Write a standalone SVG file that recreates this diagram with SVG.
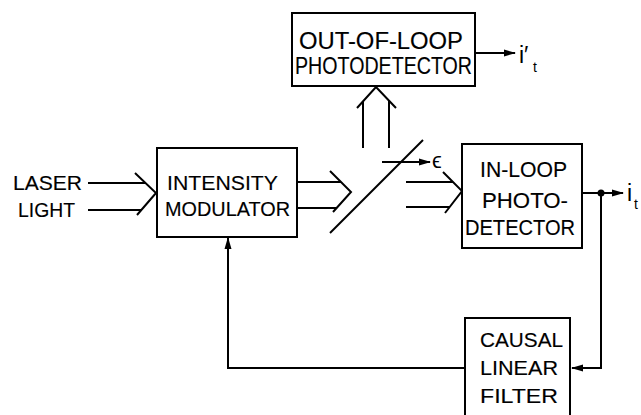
<svg xmlns="http://www.w3.org/2000/svg" width="641" height="415" viewBox="0 0 641 415">
<defs>
<marker id="ah" markerWidth="12" markerHeight="8" refX="11" refY="4" orient="auto" markerUnits="userSpaceOnUse">
<path d="M0,0.5 L12,4 L0,7.5 Z" fill="#000"/>
</marker>
<style>
.box{fill:#fff;stroke:#000;stroke-width:2}
.ln{fill:none;stroke:#000;stroke-width:2}
.t{font-family:"Liberation Sans","DejaVu Sans",sans-serif;font-size:21px;fill:#000;stroke:#000;stroke-width:0.15}
.s{font-family:"Liberation Sans","DejaVu Sans",sans-serif;fill:#000}
</style>
</defs>
<rect width="641" height="415" fill="#fff"/>

<g id="connectors">
  <!-- laser light input beam -->
  <line class="ln" x1="88" y1="183" x2="145" y2="183"/>
  <line class="ln" x1="88" y1="210" x2="141" y2="210"/>
  <polyline class="ln" points="135,173 156,193 137,215"/>
  <!-- modulator output beam -->
  <line class="ln" x1="297" y1="182" x2="341" y2="182"/>
  <line class="ln" x1="297" y1="208" x2="337" y2="208"/>
  <polyline class="ln" points="330,171 351,192 333,212"/>
  <!-- beam splitter -->
  <line class="ln" x1="330" y1="233" x2="423" y2="140"/>
  <!-- epsilon input -->
  <line class="ln" x1="382" y1="162" x2="430" y2="162" marker-end="url(#ah)"/>
  <!-- transmitted beam to in-loop -->
  <line class="ln" x1="406" y1="182" x2="453" y2="182"/>
  <line class="ln" x1="406" y1="207" x2="450" y2="207"/>
  <polyline class="ln" points="443,172 462,191 445,213"/>
  <!-- reflected beam up -->
  <line class="ln" x1="363" y1="148" x2="363" y2="101"/>
  <line class="ln" x1="389" y1="148" x2="389" y2="101"/>
  <polyline class="ln" points="357,108 376,87 396,108"/>
  <!-- out-of-loop output -->
  <line class="ln" x1="475" y1="53" x2="515" y2="53" marker-end="url(#ah)"/>
  <!-- in-loop output -->
  <line class="ln" x1="582" y1="193" x2="623" y2="193" marker-end="url(#ah)"/>
  <circle cx="601" cy="193" r="3.5" fill="#000"/>
  <polyline class="ln" points="601,193 601,368 572,368" marker-end="url(#ah)"/>
  <!-- feedback -->
  <polyline class="ln" points="465,368 228,368 228,238" marker-end="url(#ah)"/>
</g>

<g id="laser-light">
  <text class="t" x="13" y="190" textLength="69" lengthAdjust="spacingAndGlyphs">LASER</text>
  <text class="t" x="18" y="217" textLength="57" lengthAdjust="spacingAndGlyphs">LIGHT</text>
</g>

<g id="intensity-modulator">
  <rect class="box" x="157" y="148" width="140" height="89"/>
  <text class="t" x="167" y="190" textLength="111" lengthAdjust="spacingAndGlyphs">INTENSITY</text>
  <text class="t" x="165" y="216" textLength="125" lengthAdjust="spacingAndGlyphs">MODULATOR</text>
</g>

<g id="out-of-loop-photodetector">
  <rect class="box" x="292" y="13" width="183" height="73"/>
  <text class="t" x="299" y="49" style="font-size:24px" textLength="164" lengthAdjust="spacingAndGlyphs">OUT-OF-LOOP</text>
  <text class="t" x="295" y="74" style="font-size:24px" textLength="177" lengthAdjust="spacingAndGlyphs">PHOTODETECTOR</text>
</g>

<g id="in-loop-photodetector">
  <rect class="box" x="462" y="144" width="120" height="104"/>
  <text class="t" x="480" y="177" style="font-size:22px" textLength="87" lengthAdjust="spacingAndGlyphs">IN-LOOP</text>
  <text class="t" x="482" y="208" style="font-size:22px" textLength="86" lengthAdjust="spacingAndGlyphs">PHOTO-</text>
  <text class="t" x="465" y="235" style="font-size:22px" textLength="110" lengthAdjust="spacingAndGlyphs">DETECTOR</text>
</g>

<g id="causal-linear-filter">
  <rect class="box" x="465" y="318" width="105" height="110"/>
  <text class="t" x="480" y="347" textLength="83" lengthAdjust="spacingAndGlyphs">CAUSAL</text>
  <text class="t" x="480" y="375" textLength="78" lengthAdjust="spacingAndGlyphs">LINEAR</text>
  <text class="t" x="480" y="403" textLength="78" lengthAdjust="spacingAndGlyphs">FILTER</text>
</g>

<g id="labels">
  <text class="s" x="432" y="168" font-size="22">ϵ</text>
  <text class="s" x="519" y="63" font-size="23">i′</text>
  <text class="s" x="533" y="72" font-size="14">t</text>
  <text class="s" x="627" y="201" font-size="23">i</text>
  <text class="s" x="634" y="209" font-size="14">t</text>
</g>
</svg>
